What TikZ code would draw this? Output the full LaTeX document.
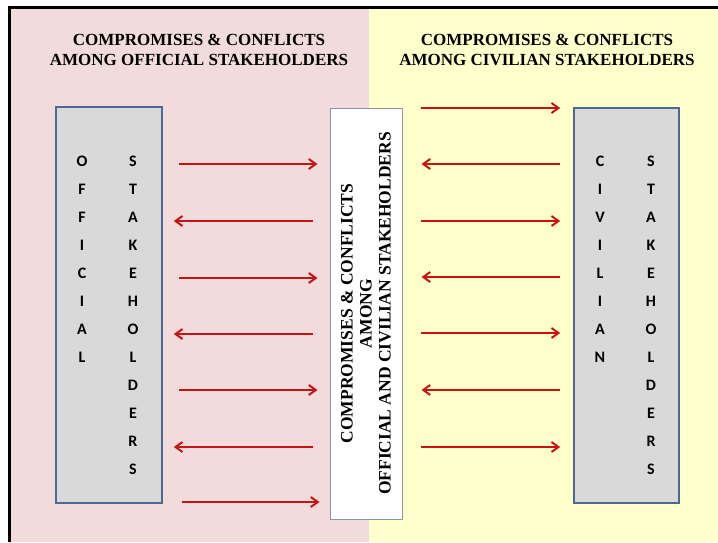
\documentclass[tikz,border=0pt]{standalone}
\usepackage{fontspec}
\setmainfont{Liberation Serif}
\newfontfamily\lettfont{Carlito}
\usetikzlibrary{arrows.meta}
\definecolor{pinkbg}{RGB}{242,220,219}
\definecolor{yellowbg}{RGB}{255,255,204}
\definecolor{greyfill}{RGB}{217,217,217}
\definecolor{boxedge}{RGB}{75,105,150}
\definecolor{whiteedge}{RGB}{140,150,170}
\definecolor{arrred}{RGB}{200,20,20}
\tikzset{
  head/.style={font=\fontsize{17}{20}\selectfont\bfseries, align=center, inner sep=0pt},
  greybox/.style={draw=boxedge, line width=1.6pt, fill=greyfill, inner sep=0pt},
  whitebox/.style={draw=whiteedge, line width=1pt, fill=white, inner sep=0pt},
  letter/.style={font=\lettfont\fontsize{16}{16}\selectfont\bfseries, inner sep=0pt},
  arr/.style={draw=arrred, line width=2pt, -{Straight Barb[length=7pt,width=10pt,line width=2pt]}},
}
\begin{document}
\begin{tikzpicture}[x=1pt,y=-1pt]
\useasboundingbox (0,0) rectangle (718,542);
\fill[pinkbg] (9,8) rectangle (369,542);
\fill[yellowbg] (369,8) rectangle (718,542);
\draw[black, line width=3pt] (9.5,542) -- (9.5,7.5) -- (718,7.5);
% headers
\node[head] (hl) at (199,50) {COMPROMISES \& CONFLICTS\\AMONG OFFICIAL STAKEHOLDERS};
\node[head] (hr) at (547,50) {COMPROMISES \& CONFLICTS\\AMONG CIVILIAN STAKEHOLDERS};
% boxes
\node[greybox, minimum width=106pt, minimum height=396pt] (L) at (109,305) {};
\node[greybox, minimum width=105pt, minimum height=395pt] (R) at (626.5,305.5) {};
\node[whitebox, minimum width=72pt, minimum height=411pt] (C) at (366,313.5) {};
\node[font=\fontsize{17.5}{19}\selectfont\bfseries, align=center, rotate=90, inner sep=0pt] (ct) at (C.center)
  {COMPROMISES \& CONFLICTS\\AMONG\\OFFICIAL AND CIVILIAN STAKEHOLDERS};
% letters
\foreach \ch [count=\i] in {O,F,F,I,C,I,A,L}
  \node[letter] (lo\i) at (82,133+28*\i) {\ch};
\foreach \ch [count=\i] in {S,T,A,K,E,H,O,L,D,E,R,S}
  \node[letter] (ls\i) at (133,133+28*\i) {\ch};
\foreach \ch [count=\i] in {C,I,V,I,L,I,A,N}
  \node[letter] (rc\i) at (600,133+28*\i) {\ch};
\foreach \ch [count=\i] in {S,T,A,K,E,H,O,L,D,E,R,S}
  \node[letter] (rs\i) at (651,133+28*\i) {\ch};
% left arrows
\foreach \y in {164,278,390}
  \draw[arr] ([xshift=16pt]L.east |- 0,\y) -- ([xshift=-12pt]C.west |- 0,\y);
\foreach \y in {221,334,447}
  \draw[arr] ([xshift=-17pt]C.west |- 0,\y) -- ([xshift=11pt]L.east |- 0,\y);
\draw[arr] ([xshift=19pt]L.east |- 0,502) -- ([xshift=-10pt]C.west |- 0,502);
% right arrows
\foreach \y in {108,221,333,447}
  \draw[arr] ([xshift=18pt]C.east |- 0,\y) -- ([xshift=-13pt]R.west |- 0,\y);
\foreach \y in {164,277,390}
  \draw[arr] ([xshift=-13pt]R.west |- 0,\y) -- ([xshift=19pt]C.east |- 0,\y);
\end{tikzpicture}
\end{document}
